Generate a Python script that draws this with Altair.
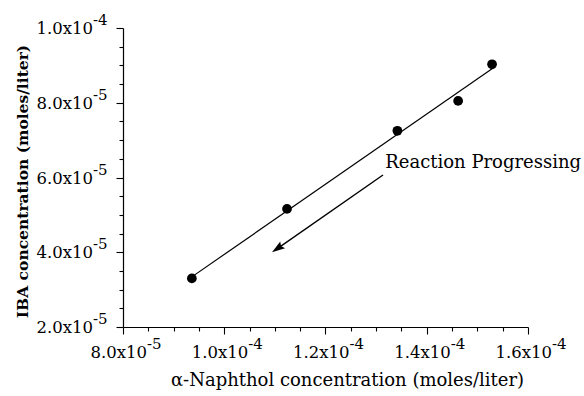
import altair as alt
import pandas as pd

# Measured concentrations (moles/liter)
naphthol = [9.36e-5, 1.124e-4, 1.342e-4, 1.462e-4, 1.529e-4]
iba = [3.30e-5, 5.16e-5, 7.25e-5, 8.05e-5, 9.03e-5]

# Tick labels: mantissa and power of ten
x_major = [8.0e-5, 1.0e-4, 1.2e-4, 1.4e-4, 1.6e-4]
x_mant = ["8.0", "1.0", "1.2", "1.4", "1.6"]
x_exp = ["-5", "-4", "-4", "-4", "-4"]
y_major = [2.0e-5, 4.0e-5, 6.0e-5, 8.0e-5, 1.0e-4]
y_mant = ["2.0", "4.0", "6.0", "8.0", "1.0"]
y_exp = ["-5", "-5", "-5", "-5", "-4"]

# Annotation arrow (tail, head) and its label, in data units
arrow_x = [1.3136e-4, 1.1105e-4]
arrow_y = [6.067e-5, 4.151e-5]
note_x = [1.318e-4]
note_y = [6.254e-5]
note_text = ["Reaction Progressing"]

X_DOM = [8.0e-5, 1.6e-4]
Y_DOM = [2.0e-5, 1.0e-4]
STEP = 5e-6
FONT = "DejaVu Serif"

x_ticks = [round(X_DOM[0] + i * STEP, 10) for i in range(17)]
y_ticks = [round(Y_DOM[0] + i * STEP, 10) for i in range(17)]

xs = alt.Scale(domain=X_DOM, nice=False, zero=False)
ys = alt.Scale(domain=Y_DOM, nice=False, zero=False)

major_test = "abs(datum.value * 1e5 / 2 - round(datum.value * 1e5 / 2)) < 0.01"
tick_size = {"condition": {"test": major_test, "value": 7}, "value": 4}

x_axis = alt.Axis(
    values=x_ticks, labels=False, grid=False, tickSize=tick_size,
    domainColor="black", domainWidth=1.2, tickColor="black", tickWidth=1.1,
    title="α-Naphthol concentration (moles/liter)",
    titleFont=FONT, titleFontSize=18, titleFontWeight="normal", titleColor="black",
    titleX=224, titleY=58, titleBaseline="alphabetic", titleAlign="center",
)
y_axis = alt.Axis(
    values=y_ticks, labels=False, grid=False, tickSize=tick_size,
    domainColor="black", domainWidth=1.2, tickColor="black", tickWidth=1.1,
    title="IBA concentration (moles/liter)",
    titleFont=FONT, titleFontSize=15.5, titleFontWeight="bold", titleColor="black",
    titleX=-96, titleY=153, titleAngle=270, titleBaseline="alphabetic", titleAlign="center",
)


def enc_x(field):
    return alt.X(field, scale=xs, axis=x_axis)


def enc_y(field):
    return alt.Y(field, scale=ys, axis=y_axis)


pts = pd.DataFrame({"x": naphthol, "y": iba})

points = alt.Chart(pts).mark_circle(size=95, color="black", opacity=1).encode(
    x=enc_x("x:Q"), y=enc_y("y:Q"),
)

fit = alt.Chart(pts).transform_regression("x", "y").mark_line(
    color="black", strokeWidth=1.2
).encode(x=enc_x("x:Q"), y=enc_y("y:Q"))

# x tick labels
xl = pd.DataFrame({
    "v": x_major,
    "base": [m + "x10" for m in x_mant],
    "exp": x_exp,
    "y0": [Y_DOM[0]] * len(x_major),
})
x_base = alt.Chart(xl).mark_text(
    align="right", baseline="alphabetic", dx=24, dy=31, font=FONT, fontSize=16.5, color="black"
).encode(x=enc_x("v:Q"), y=enc_y("y0:Q"), text="base:N")
x_pow = alt.Chart(xl).mark_text(
    align="left", baseline="alphabetic", dx=24, dy=22, font=FONT, fontSize=15, color="black"
).encode(x=enc_x("v:Q"), y=enc_y("y0:Q"), text="exp:N")

# y tick labels
yl = pd.DataFrame({
    "v": y_major,
    "base": [m + "x10" for m in y_mant],
    "exp": y_exp,
    "x0": [X_DOM[0]] * len(y_major),
})
y_base = alt.Chart(yl).mark_text(
    align="right", baseline="alphabetic", dx=-30, dy=6, font=FONT, fontSize=16.5, color="black"
).encode(x=enc_x("x0:Q"), y=enc_y("v:Q"), text="base:N")
y_pow = alt.Chart(yl).mark_text(
    align="left", baseline="alphabetic", dx=-30, dy=-3, font=FONT, fontSize=15, color="black"
).encode(x=enc_x("x0:Q"), y=enc_y("v:Q"), text="exp:N")

# arrow: shaft and head
arr = pd.DataFrame({"x": [arrow_x[0]], "y": [arrow_y[0]], "x2": [arrow_x[1]], "y2": [arrow_y[1]]})
shaft = alt.Chart(arr).mark_rule(color="black", strokeWidth=1.4).encode(
    x=enc_x("x:Q"), y=enc_y("y:Q"), x2="x2:Q", y2="y2:Q",
)
head = alt.Chart(arr).mark_point(
    shape="M0,-1L0.42,0.3L0,0.1L-0.42,0.3Z", size=400, angle=235,
    filled=True, color="black", opacity=1, strokeWidth=0,
).encode(x=enc_x("x2:Q"), y=enc_y("y2:Q"))

note = alt.Chart(pd.DataFrame({"x": note_x, "y": note_y, "t": note_text})).mark_text(
    align="left", baseline="alphabetic", font=FONT, fontSize=18, color="black"
).encode(x=enc_x("x:Q"), y=enc_y("y:Q"), text="t:N")

chart = alt.layer(
    points, fit, shaft, head, note, x_base, x_pow, y_base, y_pow
).properties(
    width=405, height=299,
    autosize="none",
    padding={"left": 123, "top": 28, "right": 56, "bottom": 69},
    background="white",
).configure_view(stroke=None)

chart.save("out.html", embed_options={"renderer": "svg", "actions": False})
